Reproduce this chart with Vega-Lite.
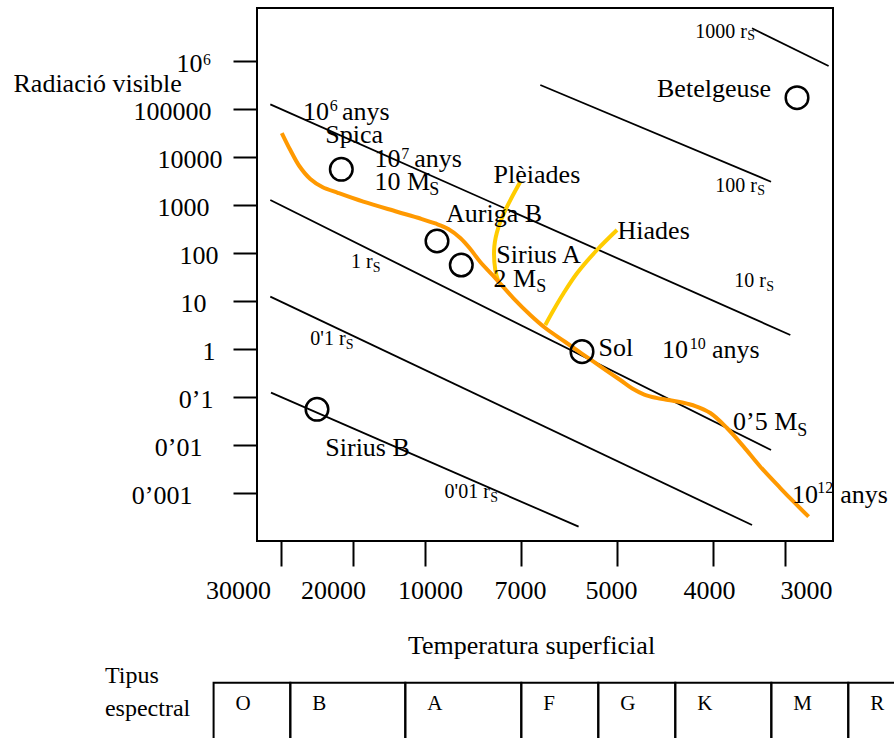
{
  "$schema": "https://vega.github.io/schema/vega-lite/v6.json",
  "width": 576,
  "height": 533,
  "autosize": {"type": "none"},
  "padding": {"left": 257, "top": 8, "right": 61, "bottom": 197},
  "background": "white",
  "config": {
    "font": "Liberation Serif",
    "view": {"stroke": "black", "strokeWidth": 2},
    "axis": {"labelColor": "black", "titleColor": "black"}
  },
  "datasets": {
    "radii": [
      {"id": "r1000", "t": 3458, "L": 4800000}, {"id": "r1000", "t": 2394, "L": 787000},
      {"id": "r100", "t": 6598, "L": 316000}, {"id": "r100", "t": 3194, "L": 3055},
      {"id": "r10", "t": 31486, "L": 125300}, {"id": "r10", "t": 2926, "L": 1.96},
      {"id": "r1", "t": 31486, "L": 1271}, {"id": "r1", "t": 3194, "L": 0.00787},
      {"id": "r01", "t": 31486, "L": 12.3}, {"id": "r01", "t": 3458, "L": 0.000215},
      {"id": "r001", "t": 31389, "L": 0.123}, {"id": "r001", "t": 5800, "L": 0.000199}
    ],
    "ms": [
      {"i": 1, "t": 29889, "L": 31623}, {"i": 2, "t": 28708, "L": 13990},
      {"i": 3, "t": 27458, "L": 6494}, {"i": 4, "t": 25930, "L": 3483},
      {"i": 5, "t": 24263, "L": 2371}, {"i": 6, "t": 22041, "L": 1778},
      {"i": 7, "t": 18569, "L": 1172}, {"i": 8, "t": 13889, "L": 725},
      {"i": 9, "t": 10652, "L": 523}, {"i": 10, "t": 9678, "L": 412},
      {"i": 11, "t": 9272, "L": 316}, {"i": 12, "t": 8897, "L": 205},
      {"i": 13, "t": 8584, "L": 121.2}, {"i": 14, "t": 8272, "L": 64.9},
      {"i": 15, "t": 7803, "L": 30.1}, {"i": 16, "t": 7241, "L": 11.5},
      {"i": 17, "t": 6806, "L": 5.11}, {"i": 18, "t": 6494, "L": 2.74},
      {"i": 19, "t": 6077, "L": 1.4}, {"i": 20, "t": 5488, "L": 0.543},
      {"i": 21, "t": 4966, "L": 0.226}, {"i": 22, "t": 4841, "L": 0.1503},
      {"i": 23, "t": 4716, "L": 0.1127}, {"i": 24, "t": 4591, "L": 0.0961},
      {"i": 25, "t": 4466, "L": 0.0866}, {"i": 26, "t": 4320, "L": 0.0767},
      {"i": 27, "t": 4184, "L": 0.0649}, {"i": 28, "t": 4028, "L": 0.0464},
      {"i": 29, "t": 3806, "L": 0.0226}, {"i": 30, "t": 3575, "L": 0.00923},
      {"i": 31, "t": 3343, "L": 0.00353}, {"i": 32, "t": 3065, "L": 0.00127},
      {"i": 33, "t": 2881, "L": 0.000659}, {"i": 34, "t": 2672, "L": 0.000321}
    ],
    "clusters": [
      {"c": "Plèiades", "i": 1, "t": 7022, "L": 3057}, {"c": "Plèiades", "i": 2, "t": 7437, "L": 922},
      {"c": "Plèiades", "i": 3, "t": 7700, "L": 353}, {"c": "Plèiades", "i": 4, "t": 7834, "L": 135},
      {"c": "Plèiades", "i": 5, "t": 7803, "L": 44.2}, {"c": "Plèiades", "i": 6, "t": 7700, "L": 24.9},
      {"c": "Hiades", "i": 1, "t": 5000, "L": 301}, {"c": "Hiades", "i": 2, "t": 5417, "L": 115.5},
      {"c": "Hiades", "i": 3, "t": 5833, "L": 37.8}, {"c": "Hiades", "i": 4, "t": 6113, "L": 14.5},
      {"c": "Hiades", "i": 5, "t": 6321, "L": 6.49}, {"c": "Hiades", "i": 6, "t": 6494, "L": 3.16}
    ],
    "stars": [
      {"star": "Spica", "t": 21625, "L": 5546},
      {"star": "Auriga B", "t": 9625, "L": 177.8},
      {"star": "Sirius A", "t": 8866, "L": 56.2},
      {"star": "Sol", "t": 5729, "L": 0.88},
      {"star": "Betelgeuse", "t": 2833, "L": 172000},
      {"star": "Sirius B", "t": 25000, "L": 0.0555}
    ],
    "labels": [
      {"label": "10", "t": 26944, "L": 59020},
      {"label": "anys", "t": 21527, "L": 59020},
      {"label": "Spica", "t": 23847, "L": 19280},
      {"label": "10", "t": 17000, "L": 6100},
      {"label": "anys", "t": 11485, "L": 6100},
      {"label": "10 M", "t": 17000, "L": 2053},
      {"label": "Auriga B", "t": 9344, "L": 449},
      {"label": "Sirius A", "t": 7772, "L": 61.0},
      {"label": "2 M", "t": 7856, "L": 19.86},
      {"label": "Plèiades", "t": 7856, "L": 2831},
      {"label": "Hiades", "t": 4994, "L": 192.8},
      {"label": "Sol", "t": 5383, "L": 0.714},
      {"label": "10", "t": 4531, "L": 0.64},
      {"label": "anys", "t": 4010, "L": 0.64},
      {"label": "Betelgeuse", "t": 4583, "L": 180300},
      {"label": "0’5 M", "t": 3722, "L": 0.02054},
      {"label": "10", "t": 2903, "L": 0.00061},
      {"label": "anys", "t": 2232, "L": 0.00061},
      {"label": "Sirius B", "t": 23847, "L": 0.0059}
    ],
    "sup": [
      {"label": "6", "t": 23222, "L": 88720},
      {"label": "7", "t": 13291, "L": 9306},
      {"label": "10", "t": 4242, "L": 1.024},
      {"label": "12", "t": 2551, "L": 0.000977}
    ],
    "msub": [
      {"label": "S", "t": 9866, "L": 1616},
      {"label": "S", "t": 6681, "L": 15.63},
      {"label": "S", "t": 2829, "L": 0.0154}
    ],
    "rlabels": [
      {"label": "1000 r", "t": 4184, "L": 3060000},
      {"label": "100 r", "t": 3968, "L": 1892},
      {"label": "10 r", "t": 3704, "L": 19.29},
      {"label": "1 r", "t": 20277, "L": 47.97},
      {"label": "0'1 r", "t": 25930, "L": 1.21},
      {"label": "0'01 r", "t": 9387, "L": 0.000777}
    ],
    "rsub": [
      {"label": "S", "t": 3524, "L": 2740000},
      {"label": "S", "t": 3385, "L": 1616},
      {"label": "S", "t": 3260, "L": 16.4},
      {"label": "S", "t": 17250, "L": 40.7},
      {"label": "S", "t": 21000, "L": 1.02},
      {"label": "S", "t": 7959, "L": 0.000659}
    ],
    "cells": [
      {"type": "O", "t": 39361, "t2": 28708},
      {"type": "B", "t": 28708, "t2": 12736},
      {"type": "A", "t": 12736, "t2": 6994},
      {"type": "F", "t": 6994, "t2": 5390},
      {"type": "G", "t": 5390, "t2": 4393},
      {"type": "K", "t": 4393, "t2": 3190},
      {"type": "M", "t": 3190, "t2": 2121},
      {"type": "R", "t": 2121, "t2": 1300}
    ],
    "tipus": [
      {"w": "Tipus\nespectral", "t": 54446}
    ]
  },
  "encoding": {
    "x": {
      "field": "t",
      "type": "quantitative",
      "scale": {
        "type": "linear",
        "domain": [33333, 30000, 20000, 10000, 7000, 5000, 4000, 3000, 2333],
        "range": [0, 24, 96, 168, 264, 360, 456, 528, 576],
        "nice": false,
        "zero": false
      },
      "axis": {
        "values": [30000, 20000, 10000, 7000, 5000, 4000, 3000],
        "labelExpr": "format(datum.value, 'd')",
        "domain": false,
        "grid": false,
        "tickSize": 25,
        "tickWidth": 2,
        "tickColor": "black",
        "labelFont": "Liberation Serif",
        "labelFontSize": 26,
        "labelPadding": 11,
        "labelOverlap": false,
        "labelFlush": false,
        "labelBound": false,
        "labelOffset": {"expr": "datum.value == 30000 ? -43 : datum.value == 20000 ? -20 : datum.value == 10000 ? 5 : datum.value == 7000 ? -1 : datum.value == 5000 ? -6 : datum.value == 4000 ? -4 : 21"},
        "title": "Temperatura superficial",
        "titleFont": "Liberation Serif",
        "titleFontSize": 26,
        "titleFontWeight": "normal",
        "titleX": 274,
        "titleY": 112,
        "titleAlign": "center",
        "titleBaseline": "alphabetic"
      }
    }
  },
  "layer": [
    {
      "encoding": {
        "y": {
          "field": "L",
          "type": "quantitative",
          "scale": {"type": "log", "domain": [0.0001, 12714000], "nice": false},
          "axis": {
            "values": [0.001, 0.01, 0.1, 1, 10, 100, 1000, 10000, 100000, 1000000],
            "labelExpr": "datum.value > 5e5 ? '10⁶' : datum.value >= 1 ? format(datum.value, 'd') : datum.value > 0.05 ? '0’1' : datum.value > 0.005 ? '0’01' : '0’001'",
            "domain": false,
            "grid": false,
            "tickSize": 24,
            "tickWidth": 2,
            "tickColor": "black",
            "labelFont": "Liberation Serif",
            "labelFontSize": 26,
            "labelOffset": 2,
            "labelPadding": {"expr": "datum.value > 5e4 ? 22 : datum.value > 5e3 ? 11 : datum.value > 500 ? 24 : datum.value > 50 ? 15 : datum.value > 5 ? 27 : datum.value > 0.5 ? 18 : datum.value > 0.05 ? 20 : datum.value > 0.005 ? 31 : 41"},
            "labelOverlap": false,
            "labelFlush": false,
            "labelBound": false,
            "title": "Radiació visible",
            "titleFont": "Liberation Serif",
            "titleFontSize": 26,
            "titleFontWeight": "normal",
            "titleAngle": 0,
            "titleX": -244,
            "titleY": 83,
            "titleAlign": "left",
            "titleBaseline": "alphabetic"
          }
        }
      },
      "layer": [
        {
          "data": {"name": "radii"},
          "mark": {"type": "line", "color": "black", "strokeWidth": 1.8},
          "encoding": {"detail": {"field": "id"}}
        },
        {
          "data": {"name": "clusters"},
          "mark": {"type": "line", "color": "#FFCC00", "strokeWidth": 4, "interpolate": "catmull-rom"},
          "encoding": {"detail": {"field": "c"}, "order": {"field": "i", "type": "quantitative"}}
        },
        {
          "data": {"name": "ms"},
          "mark": {"type": "line", "color": "#FF9900", "strokeWidth": 4, "interpolate": "catmull-rom"},
          "encoding": {"order": {"field": "i", "type": "quantitative"}}
        },
        {
          "data": {"name": "stars"},
          "mark": {"type": "point", "shape": "circle", "filled": false, "size": 510, "stroke": "black", "strokeWidth": 2.5, "opacity": 1}
        },
        {
          "data": {"name": "labels"},
          "mark": {"type": "text", "align": "left", "baseline": "alphabetic", "fontSize": 26, "font": "Liberation Serif", "color": "black"},
          "encoding": {"text": {"field": "label"}}
        },
        {
          "data": {"name": "sup"},
          "mark": {"type": "text", "align": "left", "baseline": "alphabetic", "fontSize": 16, "font": "Liberation Serif", "color": "black"},
          "encoding": {"text": {"field": "label"}}
        },
        {
          "data": {"name": "msub"},
          "mark": {"type": "text", "align": "left", "baseline": "alphabetic", "fontSize": 18, "font": "Liberation Serif", "color": "black"},
          "encoding": {"text": {"field": "label"}}
        },
        {
          "data": {"name": "rlabels"},
          "mark": {"type": "text", "align": "left", "baseline": "alphabetic", "fontSize": 20, "font": "Liberation Serif", "color": "black"},
          "encoding": {"text": {"field": "label"}}
        },
        {
          "data": {"name": "rsub"},
          "mark": {"type": "text", "align": "left", "baseline": "alphabetic", "fontSize": 14, "font": "Liberation Serif", "color": "black"},
          "encoding": {"text": {"field": "label"}}
        }
      ]
    },
    {
      "layer": [
        {
          "data": {"name": "cells"},
          "mark": {"type": "rect", "fill": "transparent", "stroke": "black", "strokeWidth": 2},
          "encoding": {
            "x2": {"field": "t2"},
            "y": {"datum": 0, "type": "quantitative", "scale": {"domain": [0, 1], "range": [674.7, 732], "nice": false, "zero": false}, "axis": null},
            "y2": {"datum": 1}
          }
        },
        {
          "data": {"name": "cells"},
          "mark": {"type": "text", "align": "left", "baseline": "alphabetic", "dx": 22, "fontSize": 21, "font": "Liberation Serif", "color": "black"},
          "encoding": {
            "y": {"datum": 0.476, "type": "quantitative", "scale": {"domain": [0, 1], "range": [674.7, 732], "nice": false, "zero": false}, "axis": null},
            "text": {"field": "type"}
          }
        },
        {
          "data": {"name": "tipus"},
          "mark": {"type": "text", "align": "left", "baseline": "alphabetic", "fontSize": 24, "font": "Liberation Serif", "color": "black", "lineBreak": "\n", "lineHeight": 33},
          "encoding": {
            "y": {"datum": 0.005, "type": "quantitative", "scale": {"domain": [0, 1], "range": [674.7, 732], "nice": false, "zero": false}, "axis": null},
            "text": {"field": "w"}
          }
        }
      ]
    }
  ],
  "resolve": {"scale": {"y": "independent"}, "axis": {"y": "independent"}}
}
